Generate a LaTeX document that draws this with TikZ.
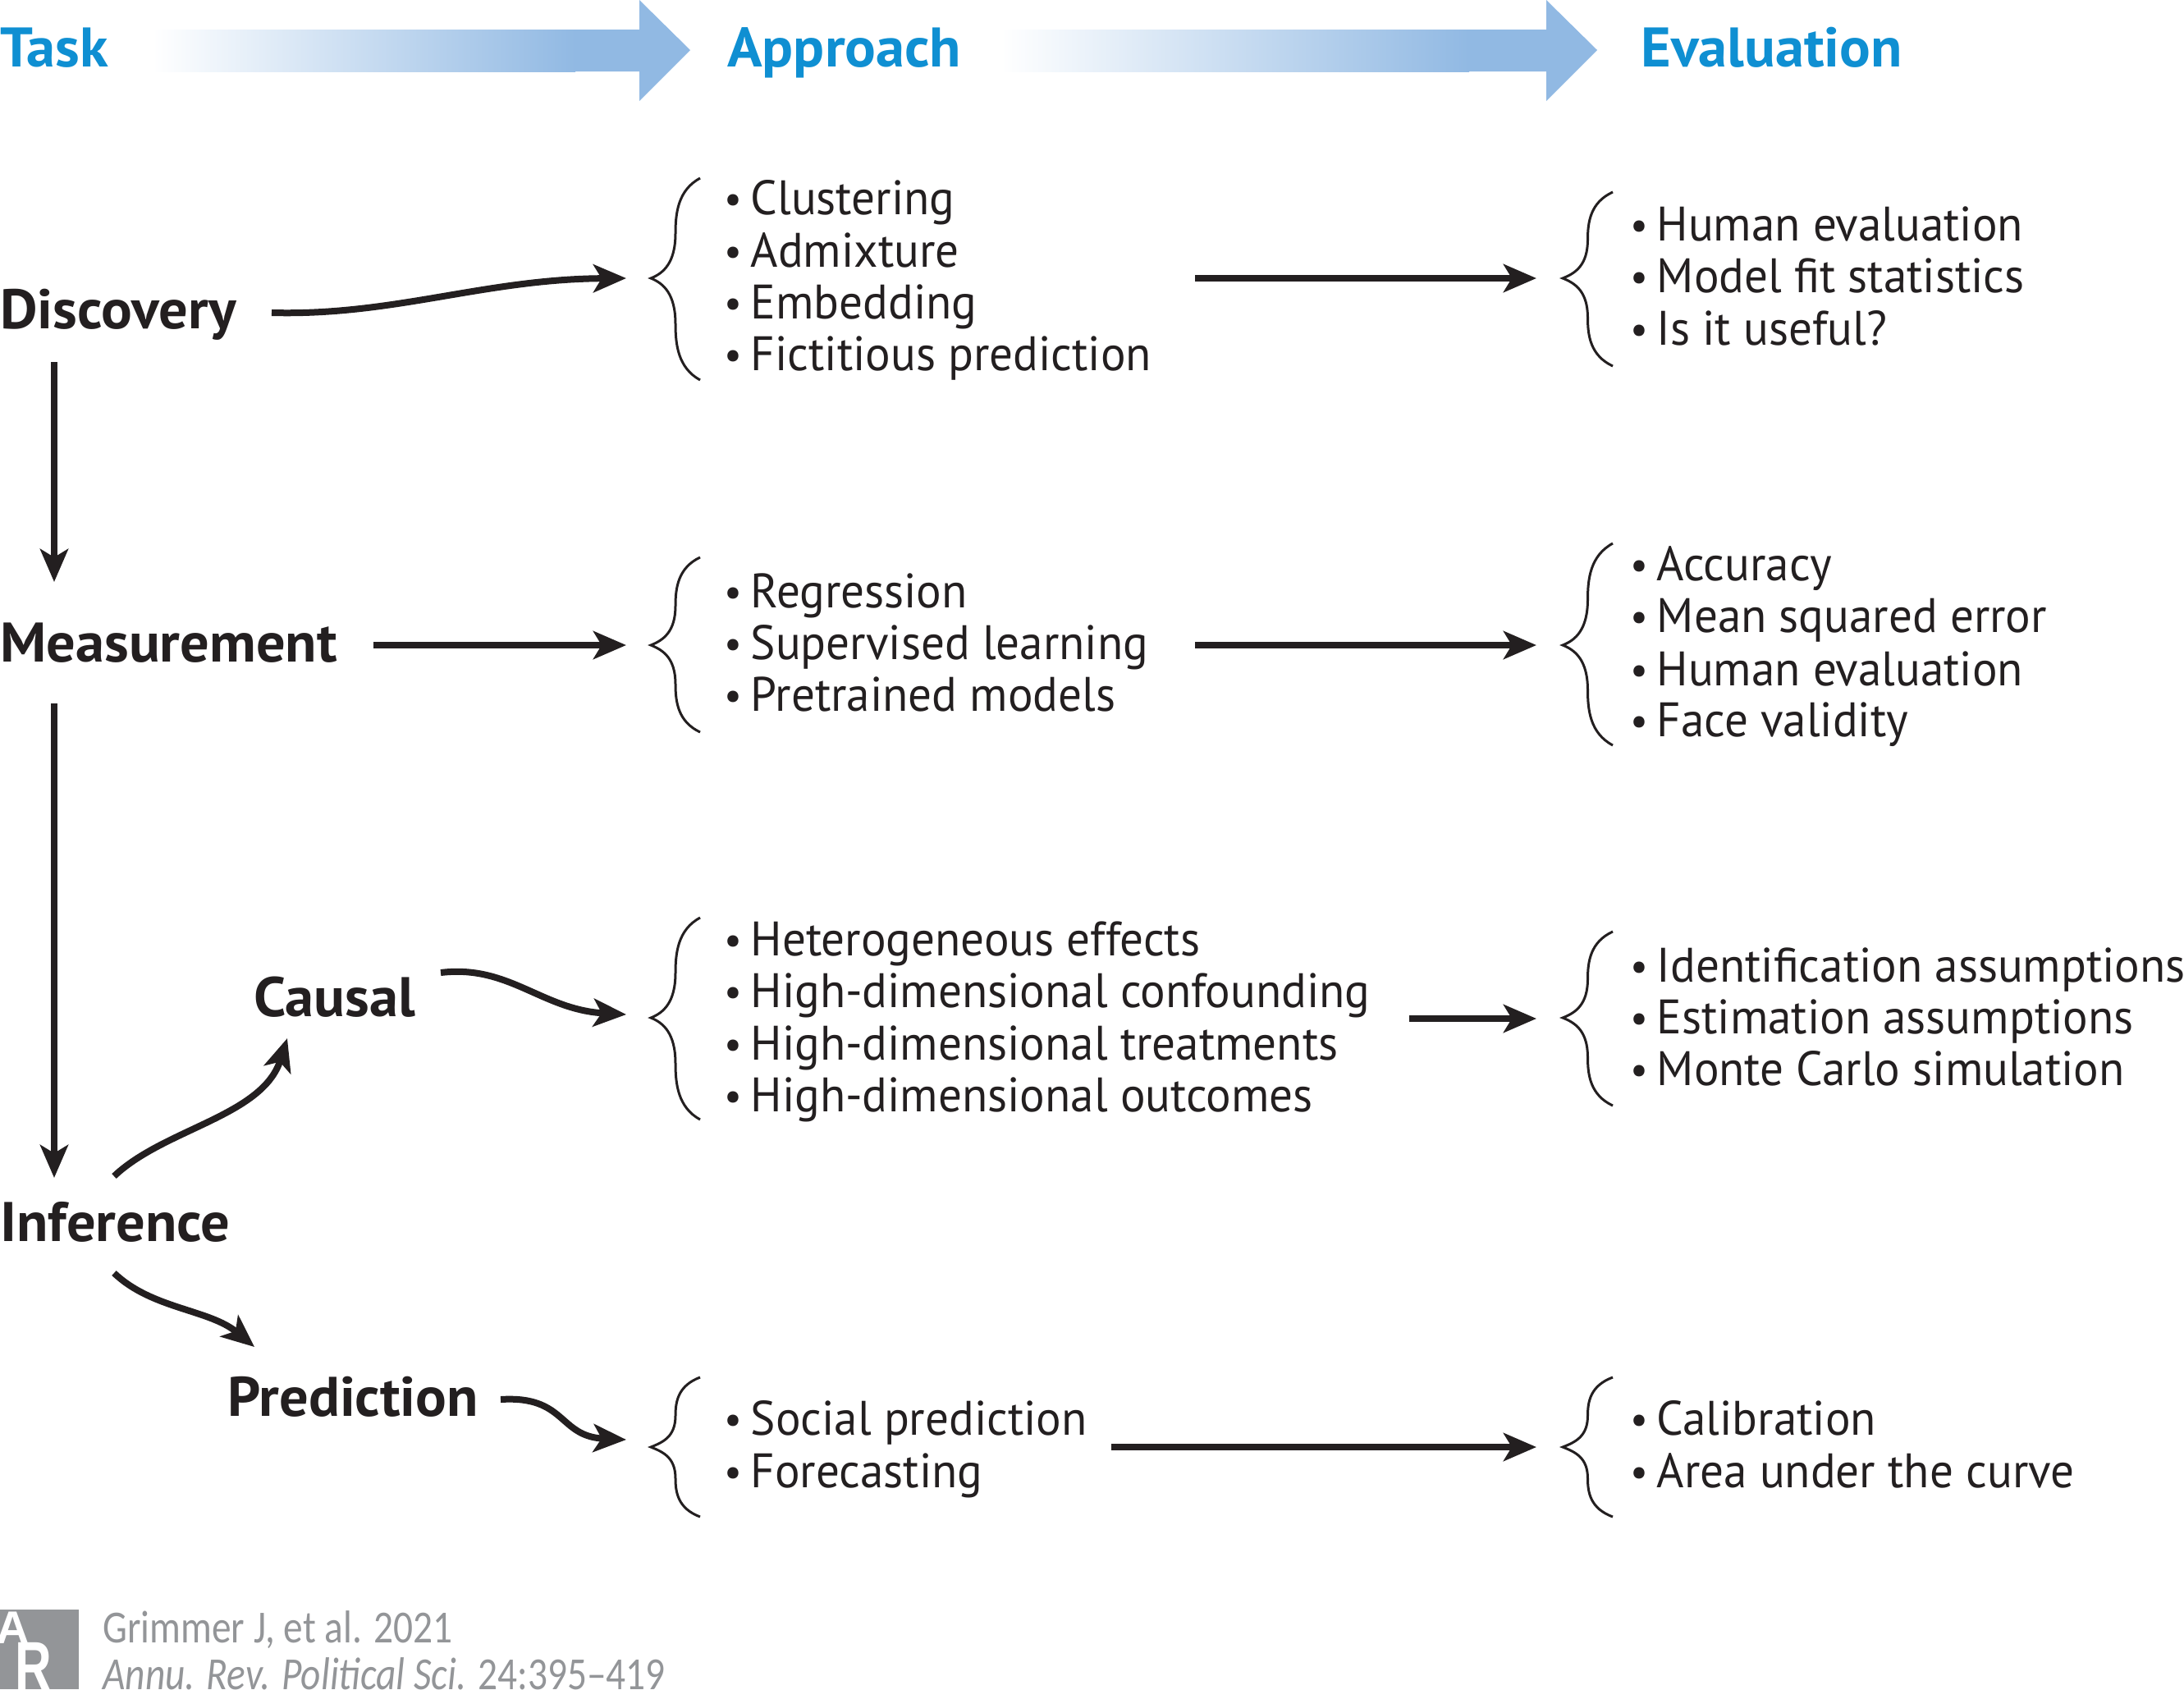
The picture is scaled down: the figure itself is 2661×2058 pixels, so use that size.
\documentclass[tikz,border=0pt]{standalone}
\usepackage{fontspec}
\setmainfont{PT Sans}
\newfontfamily\logofont{Liberation Sans}
\newfontfamily\itemfont[FakeStretch=0.968]{PT Sans}
\newfontfamily\taskfont[FakeStretch=1.035]{PT Sans}
\newfontfamily\headfont[FakeStretch=1.035]{PT Sans}
\newfontfamily\footfont[FakeStretch=0.845]{Carlito}
\usetikzlibrary{arrows.meta,shadings,calc}
\definecolor{headblue}{HTML}{0F8FD2}
\definecolor{bararrow}{HTML}{91B9E3}
\definecolor{inkblack}{HTML}{231F20}
\definecolor{footgray}{HTML}{939598}
\newcommand{\bul}{\makebox[14.2pt][l]{\hspace{-2.2pt}\raisebox{0.6pt}{\fontsize{25}{25}\selectfont •}}}
\tikzset{
  x=0.5pt,y=-0.5pt,
  head/.style={anchor=base west,inner sep=0pt,text=headblue,font=\fontsize{34}{34}\headfont\bfseries},
  task/.style={anchor=base west,inner sep=0pt,text=inkblack,font=\fontsize{34}{34}\taskfont\bfseries},
  item/.style={anchor=base west,inner sep=0pt,text=inkblack,font=\fontsize{29.5}{29.5}\itemfont},
  foot/.style={anchor=base west,inner sep=0pt,text=footgray,font=\fontsize{28}{28}\footfont},
  flow/.style={draw=inkblack,line width=4pt,-{Stealth[length=20pt,width=17pt,inset=5pt]}},
  bracepath/.style={draw=inkblack,line width=1.5pt,fill=none},
  logoletter/.style={inner sep=0pt,text=white,font=\logofont\bfseries},
}
% brace: #1 name, #2 tip x, #3 right x, #4 top y, #5 mid y, #6 bottom y
\newcommand{\curly}[6]{%
  \coordinate (#1) at (#2,#5);
  \draw[bracepath] (#3,#4) .. controls ({#2+0.55*(#3-#2)},{#4+0.12*(#5-#4)}) and ({#2+0.5*(#3-#2)},{#4+0.35*(#5-#4)}) .. ({#2+0.5*(#3-#2)},{#4+0.55*(#5-#4)})
    .. controls ({#2+0.5*(#3-#2)},{#4+0.85*(#5-#4)}) and ({#2+0.25*(#3-#2)},{#5-6}) .. (#1)
    .. controls ({#2+0.25*(#3-#2)},{#5+6}) and ({#2+0.5*(#3-#2)},{#6-0.85*(#6-#5)}) .. ({#2+0.5*(#3-#2)},{#6-0.55*(#6-#5)})
    .. controls ({#2+0.5*(#3-#2)},{#6-0.35*(#6-#5)}) and ({#2+0.55*(#3-#2)},{#6-0.12*(#6-#5)}) .. (#3,#6);
}
\begin{document}
\begin{tikzpicture}
\useasboundingbox (0,0) rectangle (2661,2058);
% top arrows
\fill[left color=white,right color=bararrow] (186,36) rectangle (701,87);
\fill[bararrow] (700,87) -- (779,87) -- (779,123) -- (841,61) -- (779,0) -- (779,36) -- (700,36) -- cycle;
\fill[left color=white,right color=bararrow] (1220,36) rectangle (1790,87);
\fill[bararrow] (1789,87) -- (1884,87) -- (1884,123) -- (1946,61) -- (1884,0) -- (1884,36) -- (1789,36) -- cycle;
% headings
\node[head] (htask) at (0,81) {Task};
\node[head] (happ) at (886,81) {Approach};
\node[head] (heval) at (1999,81) {Evaluation};
% tasks
\node[task] (disc) at (0,400) {Discovery};
\node[task] (meas) at (0,806) {Measurement};
\node[task] (causal) at (309,1238) {Causal};
\node[task] (infer) at (0,1512) {Inference};
\node[task] (pred) at (277,1725) {Prediction};
% braces
\curly{ba1}{793}{853}{217}{339}{463}
\curly{be1}{1904}{1965}{234}{339}{446}
\curly{ba2}{793}{853}{679}{786}{892}
\curly{be2}{1904}{1965}{662}{786}{908}
\curly{ba3}{793}{853}{1118}{1240}{1364}
\curly{be3}{1904}{1965}{1135}{1240}{1347}
\curly{ba4}{793}{853}{1678}{1763}{1848}
\curly{be4}{1904}{1965}{1678}{1763}{1848}
% approach lists
\node[item] (a11) at (886,261) {\bul Clustering};
\node[item] (a12) at (886,325) {\bul Admixture};
\node[item] (a13) at (886,388) {\bul Embedding};
\node[item] (a14) at (886,451) {\bul Fictitious prediction};
\node[item] (a21) at (886,740) {\bul Regression};
\node[item] (a22) at (886,803) {\bul Supervised learning};
\node[item] (a23) at (886,866) {\bul Pretrained models};
\node[item] (a31) at (886,1164) {\bul Heterogeneous effects};
\node[item] (a32) at (886,1227) {\bul High-dimensional confounding};
\node[item] (a33) at (886,1291) {\bul High-dimensional treatments};
\node[item] (a34) at (886,1354) {\bul High-dimensional outcomes};
\node[item] (a41) at (886,1748) {\bul Social prediction};
\node[item] (a42) at (886,1812) {\bul Forecasting};
% evaluation lists
\node[item] (e11) at (1990,293) {\bul Human evaluation};
\node[item] (e12) at (1990,356) {\bul Model fit statistics};
\node[item] (e13) at (1990,420) {\bul Is it useful?};
\node[item] (e21) at (1990,707) {\bul Accuracy};
\node[item] (e22) at (1990,770) {\bul Mean squared error};
\node[item] (e23) at (1990,835) {\bul Human evaluation};
\node[item] (e24) at (1990,897) {\bul Face validity};
\node[item] (e31) at (1990,1196) {\bul Identification assumptions};
\node[item] (e32) at (1990,1259) {\bul Estimation assumptions};
\node[item] (e33) at (1990,1322) {\bul Monte Carlo simulation};
\node[item] (e41) at (1990,1748) {\bul Calibration};
\node[item] (e42) at (1990,1812) {\bul Area under the curve};
% connector ends
\coordinate (discout) at (331,381);
\coordinate (measout) at (455,786);
\coordinate (causout) at (537,1185);
\coordinate (predout) at (610,1705);
\coordinate (a1in) at (763,339);
\coordinate (a2in) at (763,786);
\coordinate (a3in) at (763,1236);
\coordinate (a4in) at (763,1754);
\coordinate (a1out) at (1456,339);
\coordinate (a2out) at (1456,786);
\coordinate (a3out) at (1717,1241);
\coordinate (a4out) at (1354,1763);
\coordinate (e1in) at (1872,339);
\coordinate (e2in) at (1872,786);
\coordinate (e3in) at (1872,1241);
\coordinate (e4in) at (1872,1763);
\coordinate (d1) at (66,441);
\coordinate (m1) at (66,709);
\coordinate (m2) at (66,857);
\coordinate (i1) at (66,1435);
\coordinate (i2) at (139,1433);
\coordinate (c1) at (350,1265);
\coordinate (i3) at (139,1551);
\coordinate (p1) at (310,1641);
% connectors
\draw[flow] (d1) -- (m1);
\draw[flow] (m2) -- (i1);
\draw[flow] (discout) .. controls (480,385) and (590,340) .. (a1in);
\draw[flow] (measout) -- (a2in);
\draw[flow] (causout) .. controls (620,1175) and (660,1230) .. (a3in);
\draw[flow] (predout) .. controls (690,1700) and (680,1750) .. (a4in);
\draw[flow] (a1out) -- (e1in);
\draw[flow] (a2out) -- (e2in);
\draw[flow] (a3out) -- (e3in);
\draw[flow] (a4out) -- (e4in);
\draw[flow] (i2) .. controls (200,1375) and (320,1360) .. (c1);
\draw[flow] (i3) .. controls (185,1595) and (255,1595) .. (p1);
% footer
\fill[footgray] (0,1961) rectangle (96,2058);
\begin{scope}
\clip (0,1961) rectangle (96,2058);
\node[logoletter,anchor=base,font=\fontsize{28}{28}\logofont\bfseries] (logoa) at (16,2002) {A};
\node[logoletter,anchor=base west,font=\fontsize{43}{43}\logofont\bfseries,xscale=0.72] (logor) at (18,2060) {R};
\end{scope}
\node[foot] (f1) at (125,2001) {Grimmer J, et al. 2021};
\node[foot] (f2) at (125,2058) {\itshape Annu. Rev. Political Sci. \upshape 24:395–419};
\end{tikzpicture}
\end{document}
